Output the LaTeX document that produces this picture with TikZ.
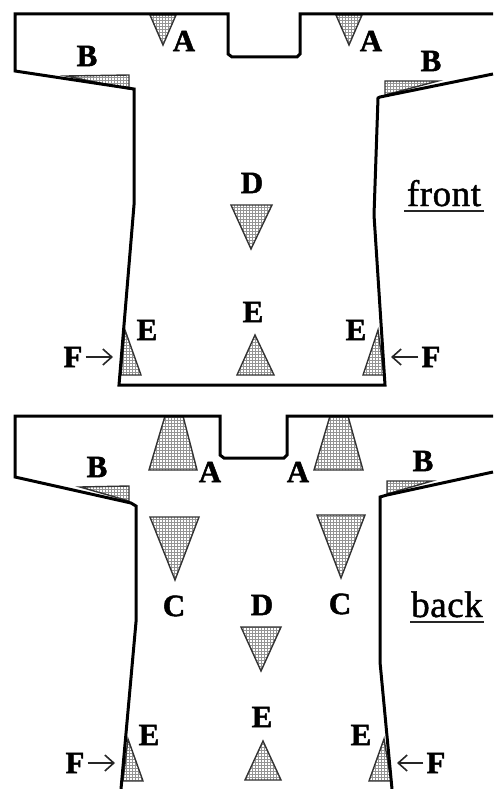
\documentclass[tikz,border=0pt]{standalone}
\usepackage{fontspec}
\setmainfont[BoldFeatures={FakeBold=1.6}]{Liberation Serif}
\newfontfamily\wordfont[FakeBold=1.2,LetterSpace=1.5]{Liberation Serif}
\usetikzlibrary{arrows.meta}
\newcommand{\dart}[1]{%
  \begin{scope}
    \clip #1 -- cycle;
    \fill[white] (0,0) rectangle (493,789);
    \draw[dotgrid] (0,0) grid (493,789);
  \end{scope}
  \draw[dartedge] #1 -- cycle;}
\tikzset{
  x=1pt,y=-1pt,
  outline/.style={line width=3pt,line join=miter,black},
  dotgrid/.style={line width=1pt,black!42,step=3pt},
  dartedge/.style={line width=1.4pt,line join=miter,black!80},
  lab/.style={font=\fontsize{31}{31}\bfseries\selectfont,inner sep=0pt,text=black},
  word/.style={font=\wordfont\fontsize{37}{37}\selectfont,inner sep=0pt,anchor=base,text=black},
  under/.style={line width=2pt,black!85},
  pointer/.style={line width=1.6pt,black!85,-{Straight Barb[length=9pt,width=16pt]}},
}
\begin{document}
\begin{tikzpicture}
\useasboundingbox (0,0) rectangle (493,789);
% front darts
\dart{(150,15) -- (176,15) -- (163,45)}
\dart{(336,15) -- (362,15) -- (349,45)}
\dart{(66,76) -- (129,75) -- (129,89)}
\dart{(385,81) -- (438,81) -- (385,95)}
\dart{(231,205) -- (272,205) -- (251,249)}
\dart{(237,375) -- (274,375) -- (255,335)}
\dart{(121,375) -- (141,375) -- (125,330)}
\dart{(363,375) -- (384,375) -- (378,330)}
% front outline
\draw[outline] (493,74) -- (380,97) -- (378,98) -- (374,215) -- (385,385) -- (119,385) -- (134,205) -- (134,89) -- (15,71) -- (15,14) -- (228,14) -- (228,54) -- (232,57) -- (297,57) -- (300,54) -- (300,14) -- (493,14);
% back darts
\dart{(165,416) -- (183,416) -- (197,470) -- (149,470)}
\dart{(330,416) -- (348,416) -- (363,470) -- (314,470)}
\dart{(80,487) -- (129,486) -- (129,501)}
\dart{(387,481) -- (432,481) -- (387,494)}
\dart{(150,517) -- (199,517) -- (175,580)}
\dart{(317,515) -- (365,515) -- (341,578)}
\dart{(241,627) -- (281,627) -- (261,671)}
\dart{(245,780) -- (281,780) -- (263,741)}
\dart{(123,781) -- (143,781) -- (128,739)}
\dart{(369,781) -- (391,781) -- (384,739)}
% back outline
\draw[outline] (493,472) -- (387,495) -- (380,497) -- (380,662) -- (392,789);
\draw[outline] (493,416) -- (287,416) -- (287,455) -- (284,458) -- (224,458) -- (220,455) -- (220,416) -- (15,416) -- (15,477) -- (131,503) -- (136,506) -- (136,622) -- (121,789);
% front labels
\node[lab] (fb1) at (87,56) {B};
\node[lab] (fa1) at (184,41) {A};
\node[lab] (fa2) at (371,41) {A};
\node[lab] (fb2) at (431,61) {B};
\node[lab] (fd) at (252,183) {D};
\node[lab] (fe1) at (147,330) {E};
\node[lab] (fe2) at (253,312) {E};
\node[lab] (fe3) at (356,330) {E};
\node[lab] (ff1) at (73,357) {F};
\node[lab] (ff2) at (431,357) {F};
\node[word] (front) at (444,206) {front};
\draw[under] (404,211) -- (484,211);
\coordinate (ft1) at (113,357);
\coordinate (ft2) at (391,357);
\draw[pointer] (ff1.east) ++(3,0) -- (ft1);
\draw[pointer] (ff2.west) ++(-3,0) -- (ft2);
% back labels
\node[lab] (bb1) at (97,467) {B};
\node[lab] (ba1) at (210,472) {A};
\node[lab] (ba2) at (298,472) {A};
\node[lab] (bb2) at (423,461) {B};
\node[lab] (bc1) at (174,606) {C};
\node[lab] (bd) at (262,605) {D};
\node[lab] (bc2) at (340,604) {C};
\node[lab] (be1) at (149,735) {E};
\node[lab] (be2) at (262,717) {E};
\node[lab] (be3) at (361,735) {E};
\node[lab] (bf1) at (75,763) {F};
\node[lab] (bf2) at (436,763) {F};
\node[word] (back) at (447,617) {back};
\draw[under] (410,622) -- (484,622);
\coordinate (bt1) at (115,763);
\coordinate (bt2) at (397,763);
\draw[pointer] (bf1.east) ++(3,0) -- (bt1);
\draw[pointer] (bf2.west) ++(-3,0) -- (bt2);
\end{tikzpicture}
\end{document}
